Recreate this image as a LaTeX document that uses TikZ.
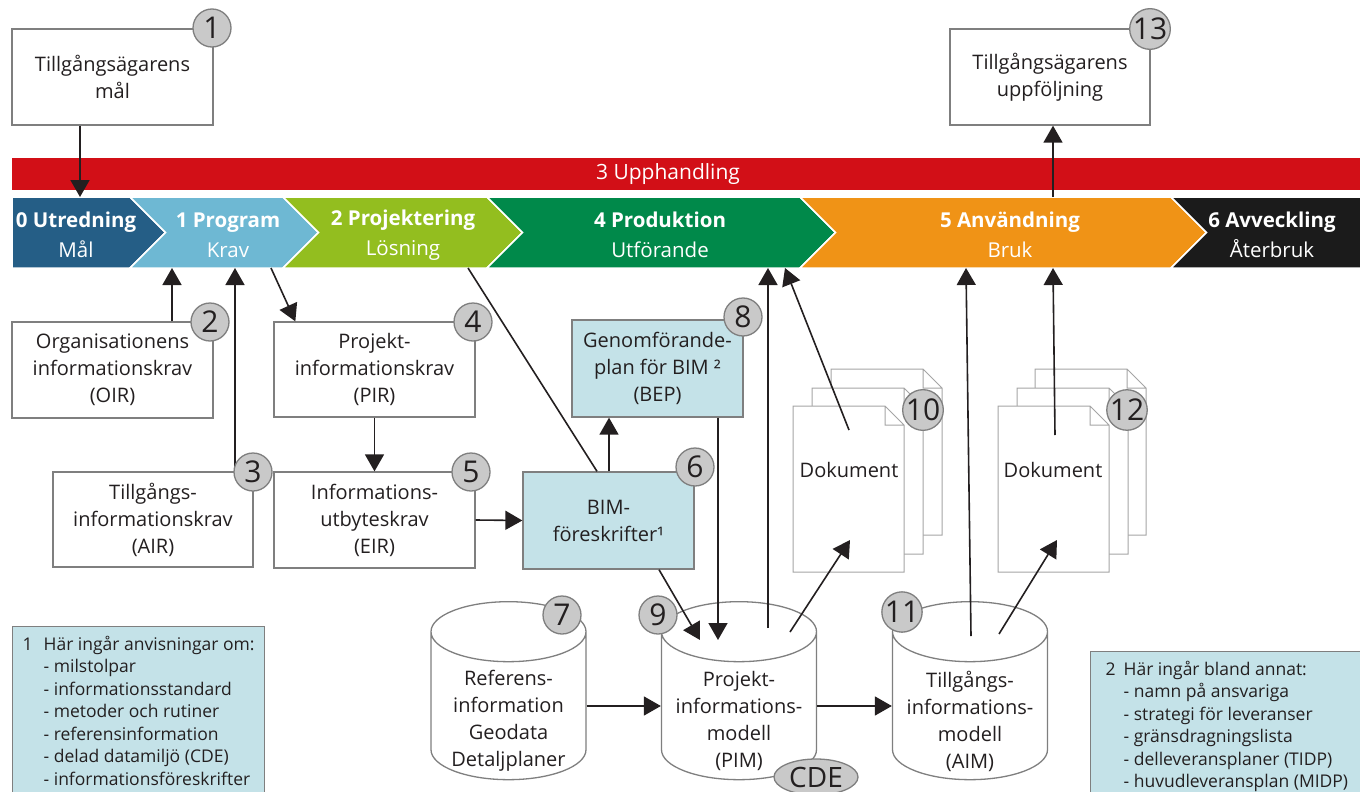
\documentclass[tikz,border=0pt]{standalone}
\usepackage{fontspec}
\setmainfont{Open Sans}
\usetikzlibrary{arrows.meta,shapes.geometric}

\definecolor{uphred}{HTML}{D20F17}
\definecolor{phase0}{HTML}{255E86}
\definecolor{phase1}{HTML}{6EB8D3}
\definecolor{phase2}{HTML}{93BE1F}
\definecolor{phase4}{HTML}{00894A}
\definecolor{phase5}{HTML}{F09316}
\definecolor{phase6}{HTML}{1B1B1B}
\definecolor{boxgray}{HTML}{7F7F7F}
\definecolor{infoblue}{HTML}{C4E2E8}
\definecolor{numgray}{HTML}{C9C9C9}
\definecolor{inkblack}{HTML}{231F20}

\begin{document}
\begin{tikzpicture}[x=1pt, y=-1pt, font=\fontsize{20}{27}\selectfont, text=inkblack,
		box_style/.style={rectangle,draw=boxgray,line width=1.3pt,fill=white,align=center,inner sep=0pt},
		info_style/.style={box_style,fill=infoblue},
		num_style/.style={circle,draw=boxgray,line width=1.3pt,fill=numgray,minimum size=38pt,inner sep=0pt,font=\fontsize{30}{30}\selectfont},
		phase_style/.style={draw=white,line width=1.5pt},
		phase_text/.style={text=white,align=center,inner sep=0pt,font=\fontsize{20.5}{30}\selectfont},
		cyl_style/.style={cylinder,shape border rotate=90,aspect=0.4,draw=boxgray,line width=1.3pt,fill=white,text width=150pt,align=center,minimum width=155pt,minimum height=178pt,inner sep=0pt},
		cyl_text/.style={align=center,yshift=-15pt},
		sheet_style/.style={draw=boxgray!70,line width=1pt,fill=white},
		legend_style/.style={info_style,anchor=north west,align=left,inner xsep=10pt,inner ysep=8pt,font=\fontsize{17.5}{22.5}\selectfont},
		edge_style/.style={draw=inkblack,line width=1.6pt,-{Triangle[length=17pt,width=19pt]}},
		line_style/.style={draw=inkblack,line width=1.6pt}]

		\useasboundingbox (0,0) rectangle (1360,792);
		\clip (0,0) rectangle (1360,792);

		% upphandling and phases
		\node[fill=uphred,minimum width=1348pt,minimum height=32pt,inner sep=0pt,
			label={[text=white,xshift=-18pt,font=\fontsize{21}{21}\selectfont]center:3 Upphandling}] (up) at (686,174) {};
		\path[phase_style,fill=phase0] (12,197) -- (130,197) -- (165.5,232.5) -- (130,268) -- (12,268) -- cycle;
		\path[phase_style,fill=phase1] (130,197) -- (283,197) -- (318.5,232.5) -- (283,268) -- (130,268) -- (165.5,232.5) -- cycle;
		\path[phase_style,fill=phase2] (283,197) -- (487,197) -- (522.5,232.5) -- (487,268) -- (283,268) -- (318.5,232.5) -- cycle;
		\path[phase_style,fill=phase4] (487,197) -- (800,197) -- (835.5,232.5) -- (800,268) -- (487,268) -- (522.5,232.5) -- cycle;
		\path[phase_style,fill=phase5] (800,197) -- (1171,197) -- (1206.5,232.5) -- (1171,268) -- (800,268) -- (835.5,232.5) -- cycle;
		\path[phase_style,fill=phase6] (1171,197) -- (1362,197) -- (1362,268) -- (1171,268) -- (1206.5,232.5) -- cycle;
		\node[phase_text] (p0) at (76,235) {\textbf{0 Utredning}\\Mål};
		\node[phase_text] (p1) at (228,235) {\textbf{1 Program}\\Krav};
		\node[phase_text] (p2) at (403,235) {\textbf{2 Projektering}\\Lösning};
		\node[phase_text] (p4) at (660,235) {\textbf{4 Produktion}\\Utförande};
		\node[phase_text] (p5) at (1010,235) {\textbf{5 Användning}\\Bruk};
		\node[phase_text] (p6) at (1272,235) {\textbf{6 Avveckling}\\Återbruk};

		% ends of connectors at the phase bar
		\coordinate (t0) at (80,197);
		\coordinate (t5) at (1053,197);
		\coordinate (b1a) at (172,268);
		\coordinate (b1b) at (235,268);
		\coordinate (b1c) at (271,268);
		\coordinate (b2) at (468,268);
		\coordinate (b4a) at (768,268);
		\coordinate (b4b) at (785,268);
		\coordinate (b5a) at (966,268);
		\coordinate (b5b) at (1053,268);

		% boxes
		\node[box_style,minimum width=201pt,minimum height=96pt] (n1) at (112.5,77) {Tillgångsägarens\\mål};
		\node[box_style,minimum width=200pt,minimum height=96pt] (n13) at (1050,77) {Tillgångsägarens\\uppföljning};
		\node[box_style,minimum width=201pt,minimum height=96pt] (n2) at (112.5,370) {Organisationens\\informationskrav\\(OIR)};
		\node[box_style,minimum width=200pt,minimum height=95pt] (n3) at (153,519.5) {Tillgångs-\\informationskrav\\(AIR)};
		\node[box_style,minimum width=201pt,minimum height=95pt] (n4) at (374.5,369.5) {Projekt-\\informationskrav\\(PIR)};
		\node[box_style,minimum width=201pt,minimum height=96pt] (n5) at (374.5,520) {Informations-\\utbyteskrav\\(EIR)};
		\node[info_style,minimum width=171pt,minimum height=97pt] (n6) at (608.5,520.5) {BIM-\\föreskrifter¹};
		\node[info_style,minimum width=171pt,minimum height=97pt] (n8) at (657.5,368.5) {Genomförande-\\plan för BIM ²\\(BEP)};

		% cylinders
		\node[cyl_style,label={[cyl_text]center:Referens-\\information\\Geodata\\Detaljplaner}] (n7) at (508.5,706) {};
		\node[cyl_style,label={[cyl_text]center:Projekt-\\informations-\\modell\\(PIM)}] (n9) at (739,706) {};
		\node[cyl_style,label={[cyl_text]center:Tillgångs-\\informations-\\modell\\(AIM)}] (n11) at (970,706) {};
		\node[ellipse,draw=boxgray,line width=1.3pt,fill=numgray,minimum width=84pt,minimum height=36pt,inner sep=0pt,font=\fontsize{28}{28}\selectfont] (cde) at (816,777) {CDE};

		% document stacks
		\draw[sheet_style] (831,369) -- ++(92,0) -- ++(19,19) -- ++(0,147) -- ++(-111,0) -- cycle (923,369) -- ++(0,19) -- ++(19,0);
		\draw[sheet_style] (812,388) -- ++(92,0) -- ++(19,19) -- ++(0,147) -- ++(-111,0) -- cycle (904,388) -- ++(0,19) -- ++(19,0);
		\draw[sheet_style] (793,406) -- ++(92,0) -- ++(19,19) -- ++(0,147) -- ++(-111,0) -- cycle (885,406) -- ++(0,19) -- ++(19,0);
		\draw[sheet_style] (1035,369) -- ++(92,0) -- ++(19,19) -- ++(0,147) -- ++(-111,0) -- cycle (1127,369) -- ++(0,19) -- ++(19,0);
		\draw[sheet_style] (1017,388) -- ++(92,0) -- ++(19,19) -- ++(0,147) -- ++(-111,0) -- cycle (1109,388) -- ++(0,19) -- ++(19,0);
		\draw[sheet_style] (998,406) -- ++(92,0) -- ++(19,19) -- ++(0,147) -- ++(-111,0) -- cycle (1090,406) -- ++(0,19) -- ++(19,0);
		\node (n10) at (849,470) {Dokument};
		\node (n12) at (1053,470) {Dokument};

		% legends
		\node[legend_style] (l1) at (12,626) {\begin{tabular}{@{}l@{\hspace{11pt}}l@{}}1 & Här ingår anvisningar om:\\ & - milstolpar\\ & - informationsstandard\\ & - metoder och rutiner\\ & - referensinformation\\ & - delad datamiljö (CDE)\\ & - informationsföreskrifter\end{tabular}};
		\node[legend_style,inner xsep=15pt] (l2) at (1090,651) {\begin{tabular}{@{}l@{\hspace{8pt}}l@{}}2 & Här ingår bland annat:\\ & - namn på ansvariga\\ & - strategi för leveranser\\ & - gränsdragningslista\\ & - delleveransplaner (TIDP)\\ & - huvudleveransplan (MIDP)\end{tabular}};

		% connectors
		\draw[edge_style] ([xshift=-32.5pt]n1.south) -- (t0);
		\draw[edge_style] (t5) -- ([xshift=3pt]n13.south);
		\draw[edge_style] ([xshift=59.5pt]n2.north) -- (b1a);
		\draw[edge_style] ([xshift=82pt]n3.north) -- (b1b);
		\draw[edge_style] (b1c) -- ([xshift=22pt]n4.north west);
		\draw[edge_style] (n4.south) -- (n5.north);
		\draw[edge_style] (n5.east) -- (n6.west);
		\draw[line_style] (b2) -- ([xshift=-11.5pt]n6.north);
		\draw[edge_style] ([xshift=0.5pt]n6.north) -- ([xshift=-48.5pt]n8.south);
		\draw[edge_style] ([xshift=60.5pt]n8.south) -- ([xshift=-21pt,yshift=66pt]n9.center);
		\draw[edge_style] ([xshift=50.5pt]n6.south) -- ([xshift=-39pt,yshift=66pt]n9.center);
		\draw[edge_style] ([xshift=29pt,yshift=78pt]n9.center) -- (b4a);
		\draw[edge_style] ([xshift=51pt,yshift=74pt]n9.center) -- ([xshift=1pt,yshift=-70pt]n10.center);
		\draw[edge_style] ([yshift=40pt]n10.center) -- (b4b);
		\draw[edge_style] (n7.east) -- (n9.west);
		\draw[edge_style] (n9.east) -- (n11.west);
		\draw[edge_style] ([xshift=1pt,yshift=70pt]n11.center) -- (b5a);
		\draw[edge_style] ([xshift=29pt,yshift=72pt]n11.center) -- ([xshift=4pt,yshift=-70pt]n12.center);
		\draw[edge_style] ([xshift=2pt,yshift=35pt]n12.center) -- (b5b);

		% numbers
		\node[num_style] (c1) at (212,28) {1};
		\node[num_style] (c2) at (210,322) {2};
		\node[num_style] (c3) at (253,472) {3};
		\node[num_style] (c4) at (473,322) {4};
		\node[num_style] (c5) at (471,472) {5};
		\node[num_style] (c6) at (695,467) {6};
		\node[num_style] (c7) at (562,615) {7};
		\node[num_style] (c8) at (743,317) {8};
		\node[num_style] (c9) at (658,615) {9};
		\node[num_style] (c10) at (923,410) {10};
		\node[num_style] (c11) at (902,612) {11};
		\node[num_style] (c12) at (1127,410) {12};
		\node[num_style] (c13) at (1150,29) {13};
\end{tikzpicture}
\end{document}
